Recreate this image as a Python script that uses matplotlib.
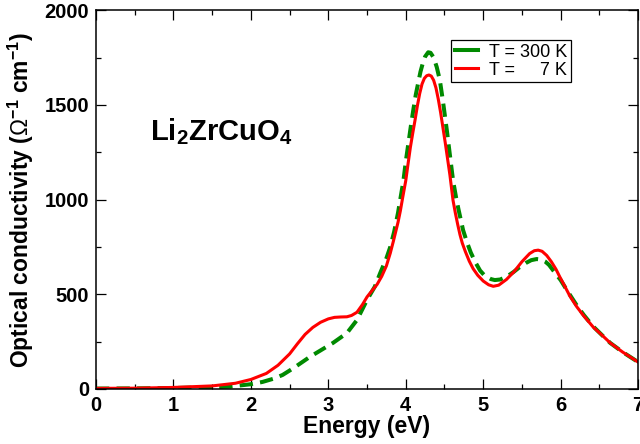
import numpy as np
import matplotlib.pyplot as plt
from matplotlib.ticker import MultipleLocator

plt.rcParams['font.family'] = ['Liberation Sans', 'DejaVu Sans']
plt.rcParams['mathtext.fontset'] = 'custom'
plt.rcParams['mathtext.rm'] = 'Liberation Sans'
plt.rcParams['mathtext.bf'] = 'Liberation Sans:bold'

# T = 7 K (red, solid)
energy_7k = [0, 0.5, 1.0, 1.5, 1.8, 2.0, 2.2, 2.35, 2.5, 2.6, 2.7, 2.8, 2.9, 3.0,
             3.08, 3.16, 3.24, 3.3, 3.37, 3.44, 3.5, 3.57, 3.63, 3.69, 3.75, 3.8, 3.84,
             3.87, 3.9, 3.93, 3.96, 4.0, 4.03, 4.06, 4.09, 4.12, 4.15, 4.18, 4.21,
             4.24, 4.27, 4.30, 4.33, 4.36, 4.39, 4.42, 4.45, 4.48, 4.51, 4.54, 4.57,
             4.61, 4.64, 4.67, 4.70, 4.73, 4.77, 4.82, 4.87, 4.93, 5.0, 5.07, 5.13,
             5.2, 5.3, 5.4, 5.5, 5.6, 5.66, 5.71, 5.76, 5.82, 5.88, 5.94, 5.99,
             6.05, 6.12, 6.21, 6.3, 6.42, 6.55, 6.64, 6.8, 7.0]
sigma_7k = [3, 4, 8, 16, 30, 50, 82, 125, 185, 238, 288, 325, 352, 370,
            378, 380, 381, 388, 405, 445, 486, 522, 552, 595, 650, 717, 780,
            830, 880, 940, 1010, 1100, 1190, 1277, 1350, 1420, 1495, 1560, 1610,
            1640, 1654, 1658, 1652, 1630, 1590, 1530, 1460, 1380, 1300, 1215, 1130,
            997, 930, 870, 815, 770, 725, 675, 635, 600, 570, 550, 542,
            548, 578, 620, 672, 715, 730, 733, 727, 705, 672, 632, 591,
            545, 490, 433, 385, 327, 278, 243, 195, 142]

# T = 300 K (green, dashed)
energy_300k = [0, 0.5, 1.0, 1.5, 1.72, 2.0, 2.15, 2.3, 2.41, 2.55, 2.76, 3.06, 3.24,
               3.37, 3.5, 3.6, 3.67, 3.75, 3.8, 3.85, 3.9, 3.97, 4.0, 4.04, 4.07,
               4.1, 4.13, 4.16, 4.19, 4.22, 4.25, 4.29, 4.32, 4.36, 4.4, 4.44, 4.48,
               4.53, 4.57, 4.61, 4.65, 4.68, 4.74, 4.79, 4.84, 4.9, 4.96, 5.02, 5.1,
               5.15, 5.22, 5.3, 5.39, 5.47, 5.55, 5.62, 5.69, 5.75, 5.8, 5.85, 5.9,
               6.0, 6.08, 6.21, 6.3, 6.42, 6.55, 6.64, 6.8, 7.0]
sigma_300k = [2, 3, 5, 9, 12, 25, 37, 55, 74, 110, 169, 243, 295,
              364, 470, 540, 612, 690, 750, 830, 930, 1100, 1200, 1314, 1400,
              1480, 1555, 1615, 1675, 1720, 1755, 1778, 1775, 1750, 1700, 1631, 1520,
              1367, 1235, 1103, 1010, 950, 839, 775, 720, 668, 625, 598, 580,
              575, 578, 592, 617, 643, 665, 680, 686, 683, 673, 655, 628,
              575, 522, 440, 390, 330, 278, 243, 195, 142]

fig = plt.figure(figsize=(6.4, 4.44), dpi=100)
ax = fig.add_axes([0.15, 0.124, 0.847, 0.853])

ax.plot(energy_300k, sigma_300k, color='#008a00', lw=2.9, dashes=(3.3, 1.8),
        label='T = 300 K')
ax.plot(energy_7k, sigma_7k, color='#ff0000', lw=2.2, label='T =     7 K')

ax.set_xlim(0, 7)
ax.set_ylim(0, 2000)
ax.xaxis.set_major_locator(MultipleLocator(1))
ax.xaxis.set_minor_locator(MultipleLocator(0.5))
ax.yaxis.set_major_locator(MultipleLocator(500))
ax.yaxis.set_minor_locator(MultipleLocator(250))
ax.tick_params(which='both', direction='in', top=True, right=True, width=0.9)
ax.tick_params(which='major', length=7, labelsize=14.5, pad=5)
ax.tick_params(which='minor', length=3.6)
for lab in ax.get_xticklabels() + ax.get_yticklabels():
    lab.set_fontweight('bold')
for s in ax.spines.values():
    s.set_linewidth(1.1)

ax.set_xlabel('Energy (eV)', fontsize=16.5, fontweight='bold', labelpad=0)
ax.set_ylabel(r'Optical conductivity ($\Omega^{\mathbf{-1}}$ cm$^{\mathbf{-1}}$)',
              fontsize=16.5, fontweight='bold', labelpad=6)

ax.text(0.1, 0.68, r'Li$_{\mathbf{2}}$ZrCuO$_{\mathbf{4}}$', transform=ax.transAxes,
        fontsize=21, fontweight='bold', va='center', ha='left')

leg = ax.legend(loc='upper right', bbox_to_anchor=(0.893, 0.945), fontsize=13,
                handlelength=1.3, labelspacing=0.05, borderpad=0.2,
                handletextpad=0.6, fancybox=False, framealpha=1)
leg.get_frame().set_edgecolor('black')
leg.get_frame().set_linewidth(0.9)
# the legend sample for the dashed line shows as one solid dash
leg.get_lines()[0].set_linestyle('-')

plt.savefig('out.png', dpi=100)
